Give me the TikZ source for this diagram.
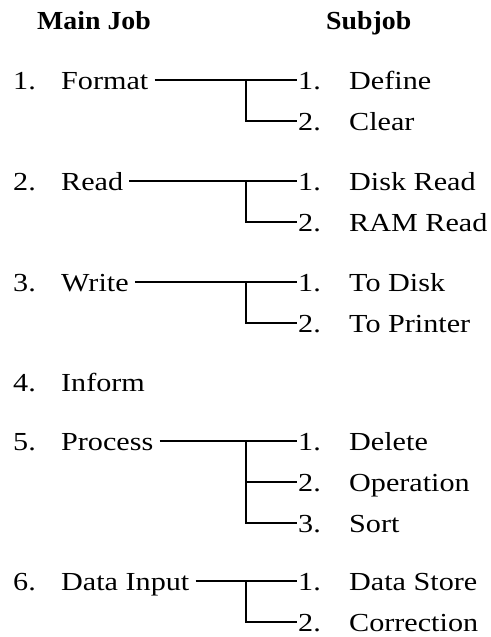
\documentclass[tikz,border=0pt]{standalone}
\usepackage{fontspec}
\newfontfamily\regf{Liberation Serif}[FakeStretch=1.16]
\newfontfamily\headf{Liberation Serif}[FakeStretch=1.07]
\begin{document}
\begin{tikzpicture}[x=1pt,y=-1pt]
\tikzset{
  mainjob/.style={anchor=west, inner sep=0pt, text height=18pt, text depth=0pt,
    font=\regf\fontsize{26}{30}\selectfont},
  subjob/.style={anchor=west, inner xsep=1pt, inner ysep=0pt, text height=18pt, text depth=0pt,
    font=\regf\fontsize{26}{30}\selectfont},
  head/.style={anchor=base west, inner sep=0pt, font=\headf\bfseries\fontsize{26}{30}\selectfont},
  link/.style={line width=1.1pt},
  fromjob/.style={link, shorten <=6pt}
}
\useasboundingbox (0,0) rectangle (490,637);
\fill[white] (0,0) rectangle (490,637);

% headers
\node[head] (hmain) at (37,29) {Main Job};
\node[head] (hsub) at (326,29) {Subjob};

% main jobs
\node[mainjob] (m1) at (13,80)  {\makebox[48pt][l]{1.}Format};
\node[mainjob] (m2) at (13,181) {\makebox[48pt][l]{2.}Read};
\node[mainjob] (m3) at (13,282) {\makebox[48pt][l]{3.}Write};
\node[mainjob] (m4) at (13,382) {\makebox[48pt][l]{4.}Inform};
\node[mainjob] (m5) at (13,441) {\makebox[48pt][l]{5.}Process};
\node[mainjob] (m6) at (13,581) {\makebox[48pt][l]{6.}Data Input};

% subjobs
\node[subjob] (s11) at (297,80)  {\makebox[51pt][l]{1.}Define};
\node[subjob] (s12) at (297,121) {\makebox[51pt][l]{2.}Clear};
\node[subjob] (s21) at (297,181) {\makebox[51pt][l]{1.}Disk Read};
\node[subjob] (s22) at (297,222) {\makebox[51pt][l]{2.}RAM Read};
\node[subjob] (s31) at (297,282) {\makebox[51pt][l]{1.}To Disk};
\node[subjob] (s32) at (297,323) {\makebox[51pt][l]{2.}To Printer};
\node[subjob] (s51) at (297,441) {\makebox[51pt][l]{1.}Delete};
\node[subjob] (s52) at (297,482) {\makebox[51pt][l]{2.}Operation};
\node[subjob] (s53) at (297,523) {\makebox[51pt][l]{3.}Sort};
\node[subjob] (s61) at (297,581) {\makebox[51pt][l]{1.}Data Store};
\node[subjob] (s62) at (297,622) {\makebox[51pt][l]{2.}Correction};

% junctions
\coordinate (j1) at (246,80);
\coordinate (j2) at (246,181);
\coordinate (j3) at (246,282);
\coordinate (j5) at (246,441);
\coordinate (j6) at (246,581);

% connectors
\draw[fromjob] (m1.east) -- (s11.west);
\draw[link] (j1) |- (s12.west);
\draw[fromjob] (m2.east) -- (s21.west);
\draw[link] (j2) |- (s22.west);
\draw[fromjob] (m3.east) -- (s31.west);
\draw[link] (j3) |- (s32.west);
\draw[fromjob] (m5.east) -- (s51.west);
\draw[link] (j5) |- (s53.west);
\draw[link] (j5 |- s52.west) -- (s52.west);
\draw[fromjob] (m6.east) -- (s61.west);
\draw[link] (j6) |- (s62.west);
\end{tikzpicture}
\end{document}
